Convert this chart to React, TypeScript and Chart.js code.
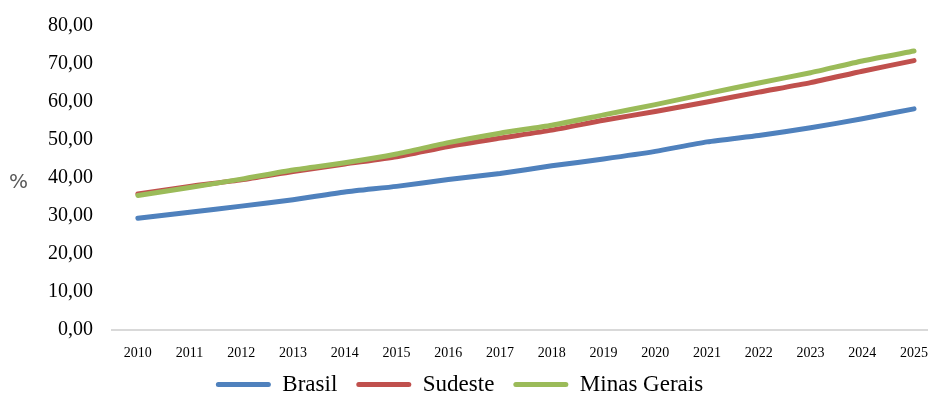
import React, { useEffect, useRef } from "react";
import { Chart, registerables } from "chart.js";

Chart.register(...registerables);

const years = ["2010", "2011", "2012", "2013", "2014", "2015", "2016", "2017", "2018", "2019", "2020", "2021", "2022", "2023", "2024", "2025"];
const brasil = [29.4, 31.0, 32.6, 34.3, 36.3, 37.8, 39.6, 41.2, 43.2, 45.0, 47.0, 49.5, 51.2, 53.2, 55.6, 58.2];
const sudeste = [35.8, 37.8, 39.5, 41.7, 43.7, 45.6, 48.3, 50.5, 52.6, 55.2, 57.5, 60.0, 62.6, 65.1, 68.1, 70.9];
const minasGerais = [35.4, 37.5, 39.7, 42.1, 44.0, 46.3, 49.3, 51.8, 53.9, 56.6, 59.3, 62.2, 65.0, 67.7, 70.8, 73.4];
const yTicks = [0, 10, 20, 30, 40, 50, 60, 70, 80];
const unitLabel = "%";

const BLUE = "#4f81bd";
const RED = "#c0504d";
const GREEN = "#9bbb59";

const LEGEND_HEIGHT = 32;
const X_AXIS_HEIGHT = 32;
const LEGEND_SHIFT_X = -12;
const LEGEND_SHIFT_Y = -8;

// Draws the "%" unit beside the value axis, kept upright,
// and keeps the legend band compact under the axis labels.
const layoutPlugin = {
  id: "unitAndLegend",
  beforeLayout(chart: any) {
    const legend = chart.legend;
    if (legend && !legend.__compact) {
      const fit = legend.fit;
      legend.fit = function (this: any) {
        fit.call(this);
        this.height = LEGEND_HEIGHT;
      };
      legend.draw = function (this: any) {
        if (!this.options.display) return;
        const ctx = this.ctx;
        ctx.save();
        ctx.translate(LEGEND_SHIFT_X, LEGEND_SHIFT_Y);
        this._draw();
        ctx.restore();
      };
      legend.__compact = true;
    }
  },
  afterDraw(chart: any) {
    const { ctx } = chart;
    const y = chart.scales.y.getPixelForValue(40);
    ctx.save();
    ctx.font = "20px 'DejaVu Sans', sans-serif";
    ctx.fillStyle = "#595959";
    ctx.textAlign = "left";
    ctx.textBaseline = "middle";
    ctx.fillText(unitLabel, 9, y + 5);
    ctx.restore();
  },
};

export default function App() {
  const ref = useRef<HTMLCanvasElement>(null);

  useEffect(() => {
    if (!ref.current) return;
    const line = (label: string, data: number[], color: string, order: number) => ({
      label,
      data,
      borderColor: color,
      backgroundColor: color,
      borderWidth: 5,
      borderCapStyle: "round",
      borderJoinStyle: "round",
      pointRadius: 0,
      pointHoverRadius: 0,
      tension: 0.2,
      order,
    });
    const chart = new Chart(ref.current, {
      type: "line",
      data: {
        labels: years,
        datasets: [
          line("Brasil", brasil, BLUE, 2),
          line("Sudeste", sudeste, RED, 1),
          line("Minas Gerais", minasGerais, GREEN, 0),
        ] as any,
      },
      options: {
        animation: false,
        responsive: false,
        maintainAspectRatio: false,
        layout: { padding: { top: 26, right: 0, bottom: 0, left: 0 } },
        plugins: {
          tooltip: { enabled: false },
          legend: {
            position: "bottom",
            align: "center",
            labels: {
              boxWidth: 55,
              boxHeight: 5,
              padding: 19,
              color: "#000000",
              font: { family: "'Liberation Serif', serif", size: 23 },
              generateLabels(chart: any) {
                return chart.data.datasets.map((ds: any, i: number) => ({
                  text: ds.label,
                  fillStyle: ds.borderColor,
                  strokeStyle: ds.borderColor,
                  lineWidth: 0,
                  borderRadius: 2.5,
                  datasetIndex: i,
                  hidden: false,
                }));
              },
            },
          },
        },
        scales: {
          x: {
            offset: true,
            afterFit(scale: any) {
              scale.height = X_AXIS_HEIGHT;
            },
            grid: { display: false, drawTicks: false },
            border: { display: true, color: "#d9d9d9", width: 2 },
            ticks: {
              color: "#000000",
              padding: 15,
              maxRotation: 0,
              autoSkip: false,
              font: { family: "'Liberation Serif', serif", size: 14 },
            },
          },
          y: {
            min: 0,
            max: 80,
            afterFit(scale: any) {
              scale.width = 112;
              scale.paddingTop = 0;
              scale.paddingBottom = 0;
            },
            afterBuildTicks(scale: any) {
              scale.ticks = yTicks.map((v) => ({ value: v }));
            },
            grid: { display: false, drawTicks: false },
            border: { display: false },
            ticks: {
              color: "#000000",
              padding: 19,
              font: { family: "'Liberation Serif', serif", size: 20 },
              callback: (v: any) => Number(v).toFixed(2).replace(".", ","),
            },
          },
        },
      },
      plugins: [layoutPlugin],
    } as any);
    return () => chart.destroy();
  }, []);

  return (
    <div style={{ position: "absolute", left: 0, top: 0, width: 928, height: 394, overflow: "hidden", background: "#ffffff" }}>
      <canvas ref={ref} width={943} height={394} style={{ display: "block" }} />
    </div>
  );
}
